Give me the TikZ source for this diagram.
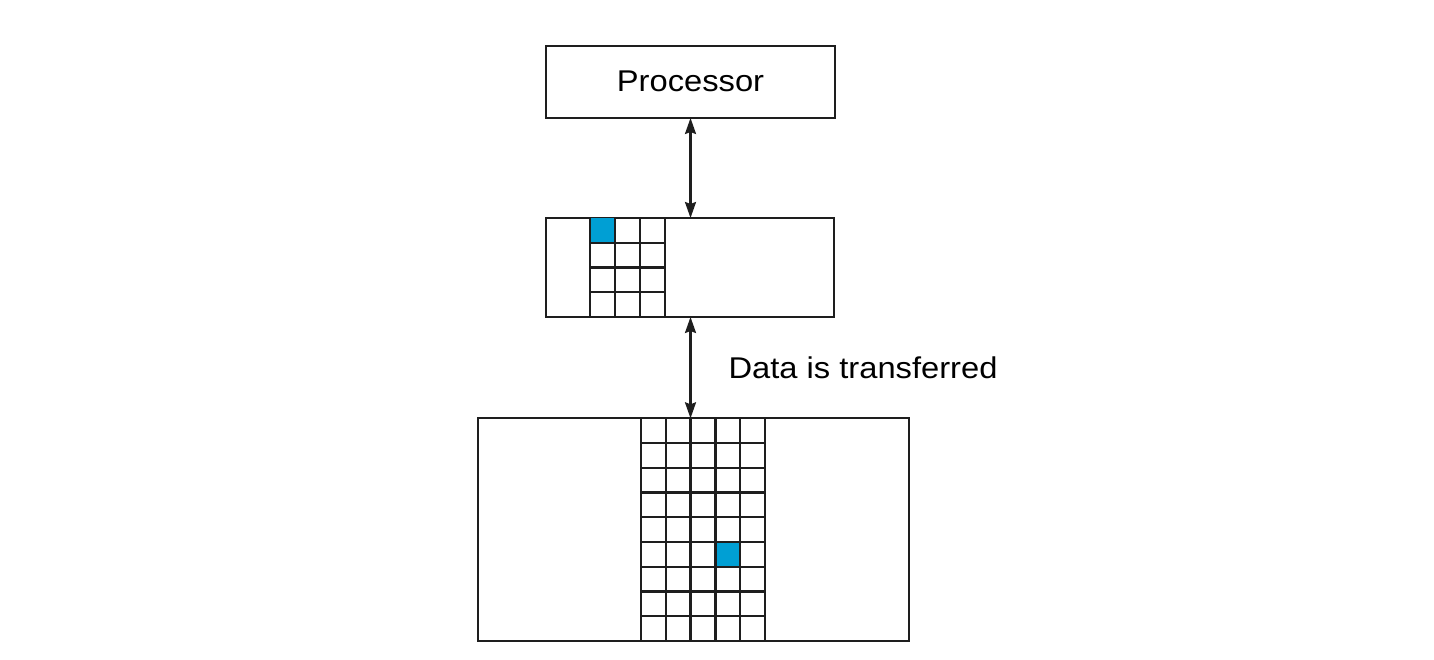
\documentclass[tikz,border=0pt]{standalone}
\usepackage{fontspec}
\setmainfont{Liberation Sans}
\usetikzlibrary{arrows.meta}
\definecolor{cellblue}{RGB}{0,159,212}
\definecolor{ink}{RGB}{30,30,30}
\tikzset{
  boxline/.style={draw=ink, line width=2.3pt, inner sep=0pt, outer sep=0pt, anchor=north west},
  gridline/.style={draw=ink, line width=2.4pt},
  bluecell/.style={fill=cellblue},
  tipshape/.tip={Stealth[length=16pt,width=11pt,inset=2pt]},
  link/.style={draw=ink, line width=2.2pt, tipshape-tipshape},
  lbl/.style={font=\fontsize{30pt}{36pt}\selectfont, text=black, inner sep=0pt, xscale=1.09, transform shape}
}
\begin{document}
\begin{tikzpicture}[x=1pt,y=-1pt]
\useasboundingbox (0,0) rectangle (1434,660);
% processor
\node[boxline, minimum width=289pt, minimum height=72pt] (proc) at (546,46) {};
\node[lbl] (proctext) at (690.5,81) {Processor};
% middle box (cache)
\node[boxline, minimum width=288pt, minimum height=99pt] (cache) at (546,218) {};
\fill[bluecell] (590,218) rectangle (615,242.75);
\foreach \i in {0,...,3} { \draw[gridline] ({590+\i*25},218) -- ({590+\i*25},317); }
\foreach \j in {1,...,3} { \draw[gridline] (590,{218+\j*24.75}) -- (665,{218+\j*24.75}); }
% bottom box (memory)
\node[boxline, minimum width=431pt, minimum height=222.7pt] (mem) at (478,418.3) {};
\fill[bluecell] (715.4,541.9) rectangle (740.2,566.6);
\foreach \i in {0,...,5} { \draw[gridline] ({641+\i*24.8},418.3) -- ({641+\i*24.8},641); }
\foreach \j in {1,...,8} { \draw[gridline] (641,{418.3+\j*24.74}) -- (765,{418.3+\j*24.74}); }
% connectors
\coordinate (a1) at (690.5,118);
\coordinate (b1) at (690.5,317);
\draw[link] (proc.south -| a1) -- (cache.north -| a1);
\draw[link] (cache.south -| b1) -- (mem.north -| b1);
\node[lbl, anchor=west] (transfer) at (728.3,368) {Data is transferred};
\end{tikzpicture}
\end{document}
